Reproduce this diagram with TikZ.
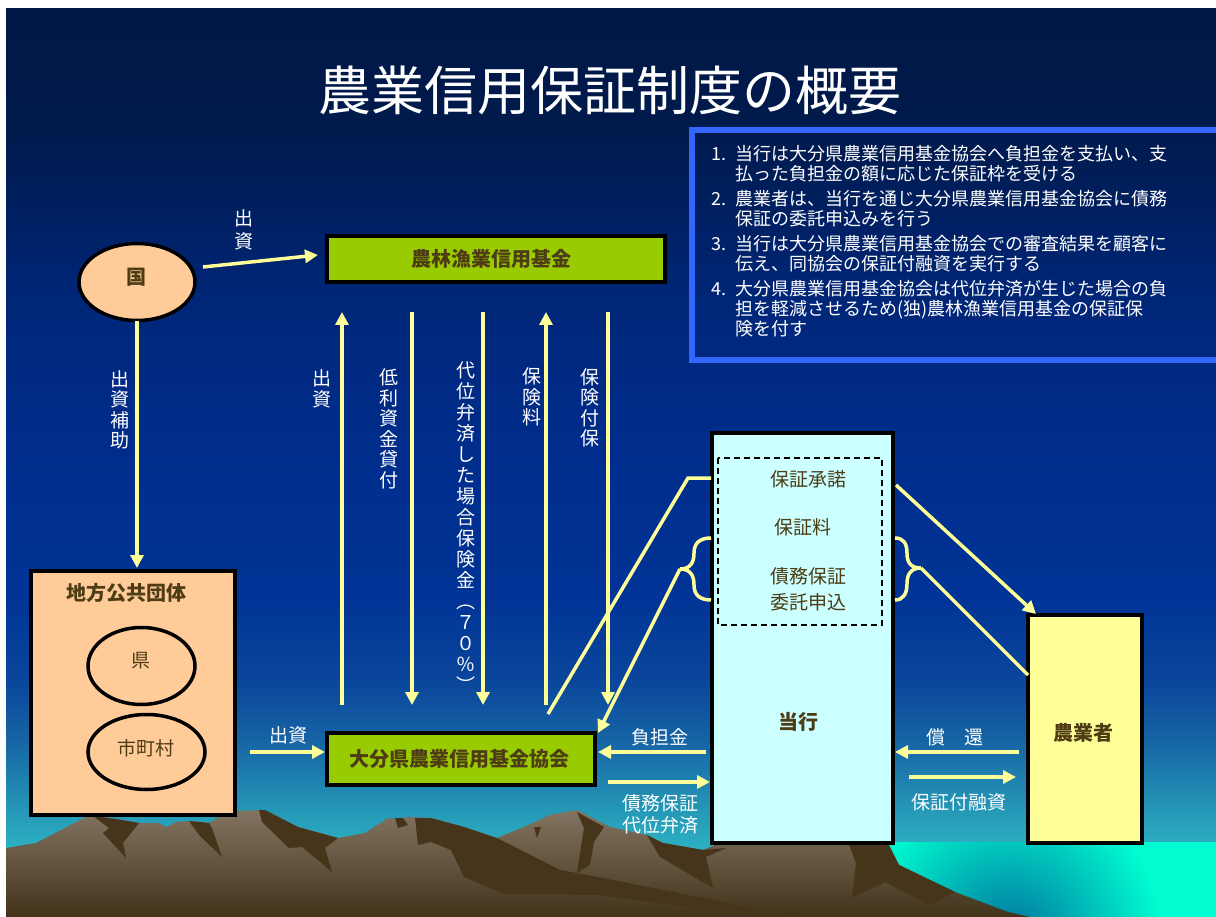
\documentclass[tikz,border=0pt]{standalone}
\usepackage{fontspec}
\setmainfont{Noto Sans CJK JP}
\usetikzlibrary{arrows.meta,shapes.geometric}

% palette
\definecolor{skA}{RGB}{0,24,70}
\definecolor{skB}{RGB}{0,26,76}
\definecolor{skC}{RGB}{0,38,120}
\definecolor{skD}{RGB}{0,45,140}
\definecolor{skE}{RGB}{0,52,150}
\definecolor{skF}{RGB}{10,70,155}
\definecolor{skG}{RGB}{22,100,165}
\definecolor{skH}{RGB}{35,145,180}
\definecolor{skI}{RGB}{45,178,195}
\definecolor{skJ}{RGB}{50,190,200}
\definecolor{seaL}{RGB}{0,252,208}
\definecolor{seaD}{RGB}{0,115,158}
\definecolor{mtTop}{RGB}{130,116,96}
\definecolor{mtMid}{RGB}{98,84,62}
\definecolor{mtBot}{RGB}{66,50,26}
\definecolor{mtDark}{RGB}{70,53,26}
\definecolor{flowYellow}{RGB}{255,255,153}
\definecolor{leafGreen}{RGB}{153,204,0}
\definecolor{peach}{RGB}{255,204,153}
\definecolor{paleCyan}{RGB}{204,255,255}
\definecolor{paleYellow}{RGB}{255,255,153}
\definecolor{inkBrown}{RGB}{78,60,20}
\definecolor{frameBlue}{RGB}{51,102,255}

% sky: the path's box maps onto 25bp..75bp (bottom to top)
\pgfdeclareverticalshading{sky}{100bp}{%
  color(0bp)=(skJ); color(25bp)=(skJ); color(28.69bp)=(skI);
  color(31.44bp)=(skH); color(34.75bp)=(skG); color(38.05bp)=(skF);
  color(42.46bp)=(skE); color(50.72bp)=(skD); color(58.98bp)=(skC);
  color(68.34bp)=(skB); color(75bp)=(skA); color(100bp)=(skA)}

\tikzset{
  flow/.style={draw=flowYellow, line width=3.5pt, -{Triangle[length=13pt,width=13pt]}},
  plainflow/.style={draw=flowYellow, line width=3.5pt},
  boxnode/.style={draw=black, line width=3.5pt, inner sep=0pt, minimum width=#1},
  oval/.style={ellipse, draw=black, line width=3.5pt, fill=peach, inner sep=0pt},
  boldtxt/.style={text=inkBrown, inner sep=0pt, font=\fontsize{20}{22}\selectfont\bfseries},
  plaintxt/.style={text=inkBrown, inner sep=0pt, align=center, font=\fontsize{19}{26}\selectfont},
  whitetxt/.style={text=white, inner sep=0pt, align=center, font=\fontsize{19}{22}\selectfont},
  vtxt/.style={text=white, inner sep=0pt, align=center, font=\fontsize{19}{20.5}\selectfont},
}

\begin{document}
\begin{tikzpicture}[x=1pt,y=-1pt]
\useasboundingbox (0,0) rectangle (1216,917);

% backdrop
\fill[white] (0,0) rectangle (1216,917);
\shade[shading=sky] (6,9) rectangle (1216,917);

% sea
\fill[seaL] (860,842) rectangle (1216,917);
\begin{scope}
  \clip (860,842) rectangle (1216,917);
  \shade[inner color=seaD, outer color=seaL] (1010,935) circle (150);
\end{scope}

% mountain range
\shade[top color=mtTop, bottom color=mtBot, middle color=mtMid]
  (6,848) -- (36,843) -- (86,817) -- (96,816) -- (116,819) -- (139,823)
  -- (159,823) -- (166,827) -- (176,822) -- (192,821) -- (209,823)
  -- (229,811) -- (265,810) -- (298,827) -- (338,838) -- (365,833)
  -- (388,818) -- (398,819) -- (408,817) -- (431,818) -- (464,827)
  -- (497,838) -- (524,827) -- (550,815) -- (577,810) -- (610,827)
  -- (647,835) -- (663,843) -- (703,850) -- (715,845) -- (856,845)
  -- (899,865) -- (955,892) -- (1008,912) -- (1030,917) -- (6,917) -- cycle;
\fill[mtDark] (93,816) -- (109,828) -- (103,833) -- (126,858) -- (123,843) -- (139,823) -- (116,819) -- cycle;
\fill[mtDark] (189,821) -- (199,835) -- (222,857) -- (212,828) -- (209,823) -- cycle;
\fill[mtDark] (259,810) -- (262,822) -- (289,848) -- (302,847) -- (332,872) -- (325,848) -- (338,838) -- (298,827) -- (265,810) -- cycle;
\fill[mtDark] (395,818) -- (398,828) -- (408,825) -- (403,818) -- cycle;
\fill[mtDark] (415,818) -- (431,818) -- (464,827) -- (497,838) -- (560,870) -- (577,873) -- (663,890) -- (796,917)
  -- (763,917) -- (597,895) -- (504,894) -- (464,877) -- (451,850) -- (431,842) -- (418,845) -- cycle;
\fill[mtDark] (577,812) -- (584,828) -- (577,873) -- (590,865) -- (594,842) -- (604,827) -- cycle;
\fill[mtDark] (534,827) -- (537,838) -- (541,827) -- cycle;
\fill[mtDark] (647,835) -- (660,857) -- (713,888) -- (706,857) -- (726,848) -- (703,850) -- (663,843) -- cycle;
\fill[mtDark] (849,845) -- (856,863) -- (852,898) -- (885,882) -- (929,905) -- (955,892) -- (899,865) -- (889,845) -- cycle;

% heading
\node[text=white, inner sep=0pt, font=\fontsize{53}{60}\selectfont] (title) at (610,90) {農業信用保証制度の概要};

% notes panel
\draw[frameBlue, line width=6pt] (1230,130) -- (692,130) -- (692,360) -- (1230,360);
\node[anchor=north west, inner sep=0pt, text=white, align=left,
      font=\fontsize{18}{20}\selectfont] (notes) at (711,145) {%
\makebox[24pt][l]{1.}当行は大分県農業信用基金協会へ負担金を支払い、支\\
\hspace*{24pt}払った負担金の額に応じた保証枠を受ける\\[5pt]
\makebox[24pt][l]{2.}農業者は、当行を通じ大分県農業信用基金協会に債務\\
\hspace*{24pt}保証の委託申込みを行う\\[5pt]
\makebox[24pt][l]{3.}当行は大分県農業信用基金協会での審査結果を顧客に\\
\hspace*{24pt}伝え、同協会の保証付融資を実行する\\[5pt]
\makebox[24pt][l]{4.}大分県農業信用基金協会は代位弁済が生じた場合の負\\
\hspace*{24pt}担を軽減させるため(独)農林漁業信用基金の保証保\\
\hspace*{24pt}険を付す};

% participants
\node[oval, minimum width=116pt, minimum height=77pt] (koku) at (137,282) {};
\node[boldtxt] (kokuTxt) at (136,277) {国};

\node[boxnode=338pt, minimum height=46pt, fill=leafGreen] (noukin) at (496,259) {};
\node[boldtxt] (noukinTxt) at (491,259) {農林漁業信用基金};

\node[boxnode=204pt, minimum height=244pt, fill=peach] (chihou) at (133,693) {};
\node[boldtxt] (chihouTxt) at (126,593) {地方公共団体};
\node[oval, minimum width=107pt, minimum height=77pt] (ken) at (141.5,666) {};
\node[plaintxt] (kenTxt) at (141,661) {県};
\node[oval, minimum width=117pt, minimum height=75pt] (shichoson) at (146.5,752) {};
\node[plaintxt] (shichosonTxt) at (146,748) {市町村};

\node[boxnode=268pt, minimum height=52pt, fill=leafGreen] (oita) at (461,759) {};
\node[boldtxt] (oitaTxt) at (459,759) {大分県農業信用基金協会};

\node[boxnode=181pt, minimum height=410pt, fill=paleCyan] (bank) at (802.5,638) {};
\draw[black, line width=1.5pt, dash pattern=on 6pt off 4pt] (718,458) rectangle (882,625);
\node[plaintxt] (shodaku) at (808,479) {保証承諾};
\node[plaintxt] (hoshoryo) at (803,527) {保証料};
\node[plaintxt] (itaku) at (808,589) {債務保証\\委託申込};
\node[boldtxt] (bankTxt) at (798,722) {当行};

\node[boxnode=114pt, minimum height=228pt, fill=paleYellow] (farmer) at (1085,729) {};
\node[boldtxt] (farmerTxt) at (1083,733) {農業者};

% connector end points
\coordinate (kokuR) at (203,267);
\coordinate (noukinL) at (318,255);
\coordinate (chihouTop) at (137,568);
\coordinate (kokuBot) at (137,321);
\coordinate (oitaFeedS) at (250,752);
\coordinate (oitaFeedE) at (325,752);
\coordinate (upAbot) at (342,705);  \coordinate (upAtop) at (342,312);
\coordinate (dnBtop) at (412,312);  \coordinate (dnBbot) at (412,705);
\coordinate (dnCtop) at (483,312);  \coordinate (dnCbot) at (483,705);
\coordinate (upDbot) at (546,705);  \coordinate (upDtop) at (546,312);
\coordinate (dnEtop) at (608,312);  \coordinate (dnEbot) at (608,705);
\coordinate (bankL) at (711,478);
\coordinate (bend) at (688,478);
\coordinate (oitaUp) at (548,714);
\coordinate (braceLtip) at (680,569);
\coordinate (oitaCorner) at (598,733);
\coordinate (futanS) at (706,752);  \coordinate (futanE) at (598,752);
\coordinate (daiiS) at (608,782);   \coordinate (daiiE) at (710,782);
\coordinate (bankR) at (896,485);   \coordinate (farmerTL) at (1036,614);
\coordinate (braceRtip) at (921,568); \coordinate (farmerL) at (1028,675);
\coordinate (shokanS) at (1019,752); \coordinate (shokanE) at (895,752);
\coordinate (yushiS) at (909,777);   \coordinate (yushiE) at (1016,777);

% flows
\draw[flow] (kokuR) -- (noukinL);
\node[whitetxt, font=\fontsize{19}{23}\selectfont] (lblShusshi1) at (244,230) {出\\資};
\draw[flow] (kokuBot) -- (chihouTop);
\node[vtxt] (lblHojo) at (120,410) {出\\資\\補\\助};
\draw[flow] (oitaFeedS) -- (oitaFeedE);
\node[whitetxt] (lblShusshi2) at (288,735) {出資};

\draw[flow] (upAbot) -- (upAtop);
\node[vtxt] (lblShusshi3) at (322,389) {出\\資};
\draw[flow] (dnBtop) -- (dnBbot);
\node[vtxt] (lblTeiri) at (389,429) {低\\利\\資\\金\\貸\\付};
\draw[flow] (dnCtop) -- (dnCbot);
\node[vtxt, font=\fontsize{19}{21}\selectfont] (lblDaii) at (466,527) {代\\位\\弁\\済\\し\\た\\場\\合\\保\\険\\金\\︵\\７\\０\\％\\︶};
\draw[flow] (upDbot) -- (upDtop);
\node[vtxt] (lblHokenryo) at (532,397) {保\\険\\料};
\draw[flow] (dnEtop) -- (dnEbot);
\node[vtxt] (lblFuho) at (590,408) {保\\険\\付\\保};

\draw[plainflow] (bankL) -- (bend) -- (oitaUp);
\draw[plainflow] (711,538) .. controls (700,538) and (694,543) .. (694,553)
  .. controls (694,563) and (690,569) .. (braceLtip)
  .. controls (690,569) and (694,575) .. (694,585)
  .. controls (694,595) and (700,600) .. (711,600);
\draw[flow] (braceLtip) -- (oitaCorner);

\draw[flow] (futanS) -- (futanE);
\node[whitetxt] (lblFutan) at (660,737) {負担金};
\draw[flow] (daiiS) -- (daiiE);
\node[whitetxt] (lblDaiiBen) at (660,814) {債務保証\\代位弁済};

\draw[flow] (bankR) -- (farmerTL);
\draw[plainflow] (895,538) .. controls (903,538) and (907,543) .. (907,553)
  .. controls (907,563) and (911,568) .. (braceRtip)
  .. controls (911,568) and (907,574) .. (907,584)
  .. controls (907,594) and (903,600) .. (895,600);
\draw[plainflow] (braceRtip) -- (farmerL);

\draw[flow] (shokanS) -- (shokanE);
\node[whitetxt] (lblShokan) at (955,737) {償　還};
\draw[flow] (yushiS) -- (yushiE);
\node[whitetxt] (lblYushi) at (959,802) {保証付融資};
\end{tikzpicture}
\end{document}
